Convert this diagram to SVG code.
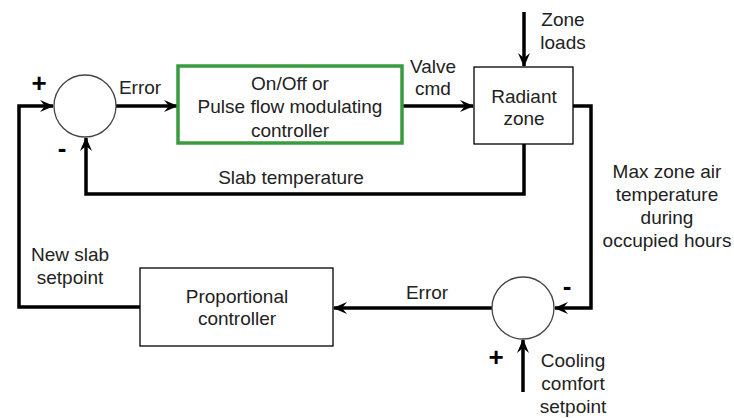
<svg xmlns="http://www.w3.org/2000/svg" width="734" height="418" viewBox="0 0 734 418">
<defs>
<marker id="arr" viewBox="0 0 14 12" refX="13" refY="6" markerWidth="14" markerHeight="12" markerUnits="userSpaceOnUse" orient="auto">
<path d="M0,0 L14,6 L0,12 L5,6 z" fill="#000"/>
</marker>
<style>
.ln{fill:none;stroke:#000;stroke-width:3.5}
.box{fill:#fff;stroke:#000;stroke-width:1.3}
.sum{fill:#fff;stroke:#444;stroke-width:1.3}
text{font-family:"Liberation Sans",Arial,sans-serif;font-size:19px;fill:#222;text-anchor:middle}
.sg{font-size:26px;font-weight:bold;fill:#000}
</style>
</defs>
<rect width="734" height="418" fill="#fff"/>
<g id="connectors">
<path class="ln" d="M116,106 L177,106" marker-end="url(#arr)"/>
<path class="ln" d="M402,106 L473,106" marker-end="url(#arr)"/>
<path class="ln" d="M524,12 L524,66" marker-end="url(#arr)"/>
<path class="ln" d="M524,144 L524,194 L86,194 L86,138" marker-end="url(#arr)"/>
<path class="ln" d="M573,106 L591,106 L591,308 L555,308" marker-end="url(#arr)"/>
<path class="ln" d="M523,392 L523,340" marker-end="url(#arr)"/>
<path class="ln" d="M492,308 L334,308" marker-end="url(#arr)"/>
<path class="ln" d="M140,307 L19,307 L19,106 L53,106" marker-end="url(#arr)"/>
</g>
<g id="sum1">
<circle class="sum" cx="85" cy="106" r="31"/>
<text class="sg" x="39" y="92">+</text>
<text class="sg" x="62" y="157">-</text>
</g>
<g id="controller">
<rect x="178" y="66" width="224" height="77" fill="#fff" stroke="#3a9a3e" stroke-width="3.5"/>
<text x="290" y="90">On/Off or</text>
<text x="290" y="113">Pulse flow modulating</text>
<text x="290" y="137">controller</text>
</g>
<g id="radiant">
<rect class="box" x="474" y="67" width="99" height="77"/>
<text x="524" y="103">Radiant</text>
<text x="524" y="125">zone</text>
</g>
<g id="sum2">
<circle class="sum" cx="523" cy="308" r="31"/>
<text class="sg" x="567" y="295">-</text>
<text class="sg" x="496" y="366">+</text>
</g>
<g id="proportional">
<rect class="box" x="140" y="268" width="193" height="78"/>
<text x="237" y="303">Proportional</text>
<text x="237" y="325">controller</text>
</g>
<g id="labels">
<text x="140" y="94">Error</text>
<text x="433" y="73">Valve</text>
<text x="433" y="95">cmd</text>
<text x="563" y="26">Zone</text>
<text x="563" y="49">loads</text>
<text x="291" y="184">Slab temperature</text>
<text x="667" y="178">Max zone air</text>
<text x="667" y="201">temperature</text>
<text x="667" y="224">during</text>
<text x="667" y="247">occupied hours</text>
<text x="70" y="261">New slab</text>
<text x="70" y="284">setpoint</text>
<text x="427" y="299">Error</text>
<text x="573" y="367">Cooling</text>
<text x="573" y="390">comfort</text>
<text x="573" y="413">setpoint</text>
</g>
</svg>
